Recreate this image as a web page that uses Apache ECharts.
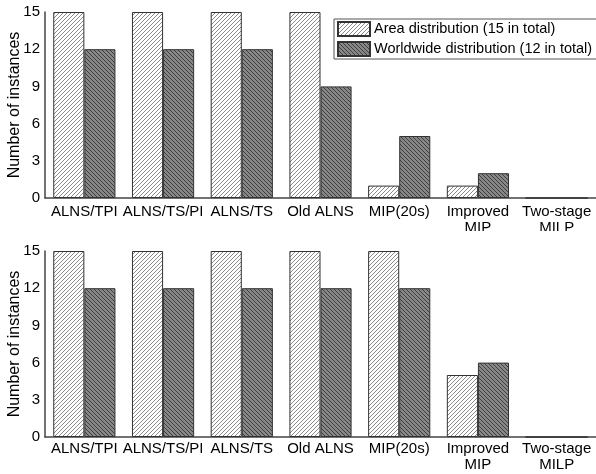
<!DOCTYPE html>
<html>
<head>
<meta charset="utf-8">
<script src="https://cdn.jsdelivr.net/npm/echarts@6/dist/echarts.min.js"></script>
<style>
  html, body { margin: 0; padding: 0; background: #fff; }
  #top { position: absolute; left: 0; top: 0; width: 596px; height: 231px; overflow: hidden; }
  #bottom { position: absolute; left: 0; top: 231px; width: 596px; height: 243px; }
</style>
</head>
<body>
<div id="top"></div>
<div id="bottom"></div>
<script>
// Methods compared on the x axis
const methods = ['ALNS/TPI', 'ALNS/TS/PI', 'ALNS/TS', 'Old ALNS', 'MIP(20s)', 'Improved\nMIP', 'Two-stage\nMILP'];
const seriesNames = ['Area distribution (15 in total)', 'Worldwide distribution (12 in total)'];

// Upper panel
const areaTop = [15, 15, 15, 15, 1, 1, 0];
const worldTop = [12, 12, 12, 9, 5, 2, 0];
// Lower panel
const areaBottom = [15, 15, 15, 15, 15, 5, 0];
const worldBottom = [12, 12, 12, 12, 12, 6, 0];

const yTicks = [0, 3, 6, 9, 12, 15];

const FONT = "'Liberation Sans', Arial, sans-serif";

// Pixel hatch tile: dir '/' or '\'
function hatch(bg, fg, dir, step) {
  const c = document.createElement('canvas');
  c.width = step; c.height = step;
  const ctx = c.getContext('2d');
  ctx.fillStyle = bg;
  ctx.fillRect(0, 0, step, step);
  ctx.fillStyle = fg;
  for (let x = 0; x < step; x++) {
    for (let y = 0; y < step; y++) {
      const on = dir === '/' ? ((x + y) % step === step - 1) : (((x - y) % step + step) % step === 0);
      if (on) ctx.fillRect(x, y, 1, 1);
    }
  }
  return { image: c, repeat: 'repeat' };
}

const areaFill = hatch('#ffffff', '#8a8a8a', '/', 4);
const worldFill = hatch('#878787', '#3e3e3e', '\\', 4);

function barSeries(name, data, fill) {
  return {
    name: name,
    type: 'bar',
    data: data,
    barGap: '0%',
    barCategoryGap: '21%',
    itemStyle: { color: fill, borderColor: '#333', borderWidth: 1 },
    emphasis: { disabled: true },
    animation: false
  };
}

function makeOption(gridTop, gridBottom, labelMargin, area, world, withLegend) {
  const opt = {
    animation: false,
    textStyle: { fontFamily: FONT },
    grid: { left: 45, right: 0, top: gridTop, bottom: gridBottom, outerBoundsMode: 'none', containLabel: false },
    xAxis: {
      type: 'category',
      data: methods,
      axisLine: { lineStyle: { color: '#444', width: 1.5 } },
      axisTick: { show: false },
      axisLabel: { interval: 0, color: '#000', fontSize: 15, margin: labelMargin, lineHeight: 16, fontFamily: FONT }
    },
    yAxis: {
      type: 'value',
      min: yTicks[0],
      max: yTicks[yTicks.length - 1],
      interval: yTicks[1] - yTicks[0],
      name: 'Number of instances',
      nameLocation: 'middle',
      nameGap: 22,
      nameMoveOverlap: false,
      nameTextStyle: { color: '#000', fontSize: 16, fontFamily: FONT },
      axisLine: { show: true, lineStyle: { color: '#444', width: 1.5 } },
      axisTick: { show: false },
      splitLine: { show: false },
      axisLabel: { color: '#000', fontSize: 15, margin: 5, fontFamily: FONT }
    },
    series: [barSeries(seriesNames[0], area, areaFill), barSeries(seriesNames[1], world, worldFill)]
  };
  if (withLegend) {
    opt.legend = {
      orient: 'vertical',
      left: 334,
      top: 19,
      padding: [2, 10, 2, 3],
      itemGap: 4,
      itemWidth: 32,
      itemHeight: 14,
      icon: 'rect',
      borderColor: '#555',
      borderWidth: 1,
      selectedMode: false,
      textStyle: { color: '#000', fontSize: 14.5, fontFamily: FONT, padding: [0, 0, 0, -1] },
      data: seriesNames
    };
  }
  return opt;
}

const topChart = echarts.init(document.getElementById('top'), null, { renderer: 'canvas' });
topChart.setOption(makeOption(12, 33, 6, areaTop, worldTop, true));

const bottomChart = echarts.init(document.getElementById('bottom'), null, { renderer: 'canvas' });
bottomChart.setOption(makeOption(20, 37, 4, areaBottom, worldBottom, false));
</script>
</body>
</html>
